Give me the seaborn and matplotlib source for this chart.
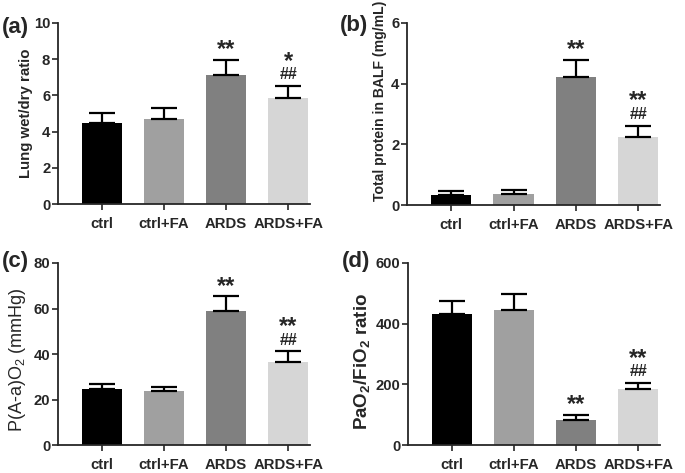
import matplotlib

matplotlib.use("Agg")

import matplotlib.pyplot as plt
import pandas as pd
import seaborn as sns

GROUPS = ["ctrl", "ctrl+FA", "ARDS", "ARDS+FA"]
COLORS = ["#000000", "#a0a0a0", "#808080", "#d6d6d6"]

# panel (a) lung wet/dry ratio
wet_dry_mean = [4.49, 4.69, 7.10, 5.86]
wet_dry_sd = [0.55, 0.64, 0.88, 0.67]
wet_dry_stars = ["", "", "**", "*"]
wet_dry_hash = ["", "", "", "##"]

# panel (b) total protein in BALF
protein_mean = [0.33, 0.36, 4.22, 2.25]
protein_sd = [0.12, 0.12, 0.57, 0.37]
protein_stars = ["", "", "**", "**"]
protein_hash = ["", "", "", "##"]

# panel (c) P(A-a)O2
aado2_mean = [24.6, 23.9, 58.8, 36.6]
aado2_sd = [2.1, 1.7, 6.5, 4.7]
aado2_stars = ["", "", "**", "**"]
aado2_hash = ["", "", "", "##"]

# panel (d) PaO2/FiO2
pf_mean = [433, 445, 81, 183]
pf_sd = [41, 52, 18, 22]
pf_stars = ["", "", "**", "**"]
pf_hash = ["", "", "", "##"]

W, H = 685, 473


def px_axes(fig, left, top, right, bottom):
    return fig.add_axes([left / W, 1 - bottom / H, (right - left) / W, (bottom - top) / H])


def draw_panel(ax, means, sds, stars, hashes, ylim, yticks, ylabel, label_size,
               label_xy, label_weight="bold"):
    df = pd.DataFrame({"group": GROUPS, "value": means})
    sns.barplot(data=df, x="group", y="value", hue="group", palette=COLORS,
                order=GROUPS, width=0.65, errorbar=None, legend=False, ax=ax,
                linewidth=0)
    ax.errorbar(range(len(GROUPS)), means, yerr=[[0] * len(sds), sds], fmt="none",
                ecolor="black", elinewidth=1.6, capsize=9.5, capthick=1.6, zorder=3)

    for i, (m, s) in enumerate(zip(means, sds)):
        top = m + s
        if hashes[i]:
            ax.annotate(hashes[i], (i, top), xytext=(0, 2.5), textcoords="offset points",
                        ha="center", va="bottom", fontsize=11.5, fontweight="bold")
            ax.annotate(stars[i], (i, top), xytext=(0, 9.5), textcoords="offset points",
                        ha="center", va="bottom", fontsize=17, fontweight="bold")
        elif stars[i]:
            ax.annotate(stars[i], (i, top), xytext=(0, -1), textcoords="offset points",
                        ha="center", va="bottom", fontsize=17, fontweight="bold")

    ax.set_xlim(-0.71, 3.35)
    ax.set_ylim(*ylim)
    ax.set_yticks(yticks)
    ax.set_xlabel("")
    ax.set_ylabel(ylabel, fontsize=label_size, fontweight=label_weight)
    ax.yaxis.set_label_coords(*label_xy)
    sns.despine(ax=ax)
    for side in ["left", "bottom"]:
        ax.spines[side].set_linewidth(1.3)
    ax.tick_params(axis="both", direction="out", length=4, width=1.2, labelsize=10.7)
    ax.tick_params(axis="y", pad=1.5)
    ax.tick_params(axis="x", pad=5.5)
    for lbl in ax.get_xticklabels() + ax.get_yticklabels():
        lbl.set_fontweight("bold")


def main() -> None:
    sns.set_style("ticks")
    plt.rcParams["font.family"] = ["Liberation Sans", "DejaVu Sans"]
    plt.rcParams["mathtext.default"] = "regular"

    fig = plt.figure(figsize=(W / 100, H / 100), dpi=100)
    ax_a = px_axes(fig, 58, 23, 310, 204)
    ax_b = px_axes(fig, 407, 23, 660, 205)
    ax_c = px_axes(fig, 58, 263, 310, 445)
    ax_d = px_axes(fig, 408, 263, 660, 445)

    draw_panel(ax_a, wet_dry_mean, wet_dry_sd, wet_dry_stars, wet_dry_hash,
               (0, 10), range(0, 11, 2), "Lung wet/dry ratio", 10.8, (-0.099, 0.5))
    draw_panel(ax_b, protein_mean, protein_sd, protein_stars, protein_hash,
               (0, 6), range(0, 7, 2), "Total protein in BALF (mg/mL)", 10.1,
               (-0.079, 0.57))
    draw_panel(ax_c, aado2_mean, aado2_sd, aado2_stars, aado2_hash,
               (0, 80), range(0, 81, 20), "P(A-a)O$_2$ (mmHg)", 13, (-0.119, 0.47),
               label_weight="normal")
    draw_panel(ax_d, pf_mean, pf_sd, pf_stars, pf_hash,
               (0, 600), range(0, 601, 200), "PaO$_2$/FiO$_2$ ratio", 13.5,
               (-0.143, 0.46))

    # panel tags, placed in figure pixels
    for tag, x, y in [("(a)", 2, 28), ("(b)", 340, 25), ("(c)", 2, 261), ("(d)", 342, 261)]:
        fig.text(x / W, 1 - y / H, tag, fontsize=16, fontweight="bold",
                 ha="left", va="center")

    fig.savefig("out.png", dpi=100)
    plt.close(fig)


if __name__ == "__main__":
    main()
